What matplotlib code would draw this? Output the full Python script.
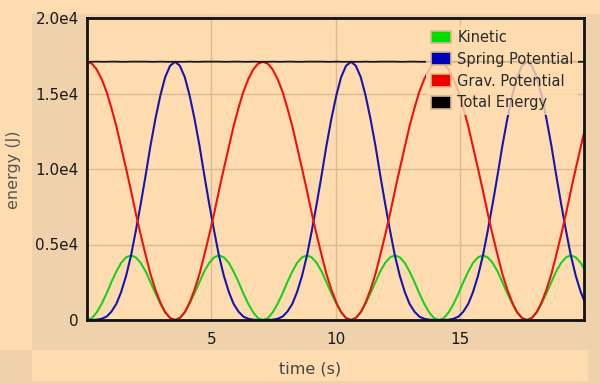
import numpy as np
import matplotlib.pyplot as plt
from matplotlib.patches import Patch, Rectangle

# 数据
time_s = [0.00, 0.20, 0.39, 0.59, 0.79, 0.98, 1.18, 1.37, 1.57, 1.77, 1.96, 2.16,
          2.36, 2.55, 2.75, 2.95, 3.14, 3.34, 3.54, 3.73, 3.93, 4.12, 4.32, 4.52,
          4.71, 4.91, 5.11, 5.30, 5.50, 5.70, 5.89, 6.09, 6.28, 6.48, 6.68, 6.87,
          7.07, 7.27, 7.46, 7.66, 7.86, 8.05, 8.25, 8.44, 8.64, 8.84, 9.03, 9.23,
          9.43, 9.62, 9.82, 10.02, 10.21, 10.41, 10.61, 10.80, 11.00, 11.19, 11.39, 11.59,
          11.78, 11.98, 12.18, 12.37, 12.57, 12.77, 12.96, 13.16, 13.35, 13.55, 13.75, 13.94,
          14.14, 14.34, 14.53, 14.73, 14.93, 15.12, 15.32, 15.51, 15.71, 15.91, 16.10, 16.30,
          16.50, 16.69, 16.89, 17.09, 17.28, 17.48, 17.68, 17.87, 18.07, 18.26, 18.46, 18.66,
          18.85, 19.05, 19.25, 19.44, 19.64, 19.84, 20.03]

kinetic = [0, 130, 500, 1070, 1770, 2510, 3210, 3780, 4150, 4280, 4150, 3780,
           3210, 2510, 1770, 1070, 500, 130, 0, 130, 500, 1070, 1770, 2510,
           3210, 3780, 4150, 4280, 4150, 3780, 3210, 2510, 1770, 1070, 500, 130,
           0, 130, 500, 1070, 1770, 2510, 3210, 3780, 4150, 4280, 4150, 3780,
           3210, 2510, 1770, 1070, 500, 130, 0, 130, 500, 1070, 1770, 2510,
           3210, 3780, 4150, 4280, 4150, 3780, 3210, 2510, 1770, 1070, 500, 130,
           0, 130, 500, 1070, 1770, 2510, 3210, 3780, 4150, 4280, 4150, 3780,
           3210, 2510, 1770, 1070, 500, 130, 0, 130, 500, 1070, 1770, 2510,
           3210, 3780, 4150, 4280, 4150, 3780, 3210]

spring_pe = [0, 0, 20, 80, 230, 550, 1070, 1850, 2920, 4280, 5890, 7700,
             9620, 11540, 13330, 14890, 16080, 16840, 17100, 16840, 16080, 14890, 13330, 11540,
             9620, 7700, 5890, 4280, 2920, 1850, 1070, 550, 230, 80, 20, 0,
             0, 0, 20, 80, 230, 550, 1070, 1850, 2920, 4280, 5890, 7700,
             9620, 11540, 13330, 14890, 16080, 16840, 17100, 16840, 16080, 14890, 13330, 11540,
             9620, 7700, 5890, 4280, 2920, 1850, 1070, 550, 230, 80, 20, 0,
             0, 0, 20, 80, 230, 550, 1070, 1850, 2920, 4280, 5890, 7700,
             9620, 11540, 13330, 14890, 16080, 16840, 17100, 16840, 16080, 14890, 13330, 11540,
             9620, 7700, 5890, 4280, 2920, 1850, 1070]

grav_pe = [17100, 16970, 16590, 15950, 15100, 14050, 12830, 11470, 10030, 8550, 7070, 5630,
           4280, 3050, 2000, 1150, 520, 130, 0, 130, 520, 1150, 2000, 3050,
           4280, 5630, 7070, 8550, 10030, 11470, 12830, 14050, 15100, 15950, 16590, 16970,
           17100, 16970, 16590, 15950, 15100, 14050, 12830, 11470, 10030, 8550, 7070, 5630,
           4280, 3050, 2000, 1150, 520, 130, 0, 130, 520, 1150, 2000, 3050,
           4280, 5630, 7070, 8550, 10030, 11470, 12830, 14050, 15100, 15950, 16590, 16970,
           17100, 16970, 16590, 15950, 15100, 14050, 12830, 11470, 10030, 8550, 7070, 5630,
           4280, 3050, 2000, 1150, 520, 130, 0, 130, 520, 1150, 2000, 3050,
           4280, 5630, 7070, 8550, 10030, 11470, 12830]

series_names = ['Kinetic', 'Spring Potential', 'Grav. Potential', 'Total Energy']
x_ticks = [5, 10, 15]
y_ticks = [0, 5000, 10000, 15000, 20000]
y_tick_labels = ['0', '0.5e4', '1.0e4', '1.5e4', '2.0e4']

# 颜色
LIGHT = '#fedcb0'
DARK = '#efd1ab'
GRID = '#d8bb94'
line_colors = ['#1ccf1c', '#1515b0', '#f01010', '#151515']
legend_colors = ['#00dd00', '#0000bb', '#ee0000', '#000000']

W, H = 600, 384
fig = plt.figure(figsize=(W / 100, H / 100), dpi=100, facecolor=LIGHT)


def band(x0, y0, x1, y1, color=DARK):
    # 像素坐标（左上角为原点）画背景色块
    fig.patches.append(Rectangle((x0 / W, 1 - y1 / H), (x1 - x0) / W, (y1 - y0) / H,
                                 transform=fig.transFigure, facecolor=color,
                                 edgecolor='none', zorder=-5))


band(32, 14, 600, 350)
band(0, 350, 32, 384)
band(588, 350, 600, 384)
band(0, 381, 600, 384)

ax = fig.add_axes([87 / W, (H - 320) / H, 497 / W, 302 / H])
ax.set_zorder(2)
ax.set_facecolor(LIGHT)

total = np.array(kinetic) + np.array(spring_pe) + np.array(grav_pe)
all_series = [kinetic, spring_pe, grav_pe, total]
for vals, c in zip(all_series, line_colors):
    lw = 1.3 if c == line_colors[3] else 1.5
    ax.plot(time_s, vals, color=c, linewidth=lw, solid_capstyle='round',
            solid_joinstyle='round')

ax.set_xlim(0, 19.97)
ax.set_ylim(0, 20000)
ax.set_xticks(x_ticks)
ax.set_yticks(y_ticks)
ax.set_yticklabels(y_tick_labels)
ax.tick_params(length=0, labelsize=11, colors='#1a1a1a')
ax.tick_params(axis='x', pad=9)
ax.tick_params(axis='y', pad=6)
ax.grid(True, color=GRID, linewidth=1)
ax.set_axisbelow(True)
for s in ax.spines.values():
    s.set_linewidth(2)
    s.set_color('#111111')

# 图例
handles = [Patch(facecolor=c, edgecolor='#d8b890', linewidth=1.2) for c in legend_colors]
leg = ax.legend(handles, series_names, loc='upper left', bbox_to_anchor=(0.683, 0.975),
                frameon=True, framealpha=0.8, facecolor=LIGHT, edgecolor='none',
                fontsize=10.5, handlelength=1.4, handleheight=0.95, labelspacing=0.47,
                handletextpad=0.42, borderpad=0.3, borderaxespad=0)
leg.get_frame().set_boxstyle('square', pad=0)
for t in leg.get_texts():
    t.set_color('#2a2a2a')

fig.text(310 / W, 1 - 369 / H, 'time (s)', ha='center', va='center',
         fontsize=11.5, color='#444444')
fig.text(14 / W, 1 - 170 / H, 'energy (J)', ha='center', va='center',
         rotation=90, fontsize=11.5, color='#555555')

fig.savefig('out.png', dpi=100, facecolor=LIGHT)
